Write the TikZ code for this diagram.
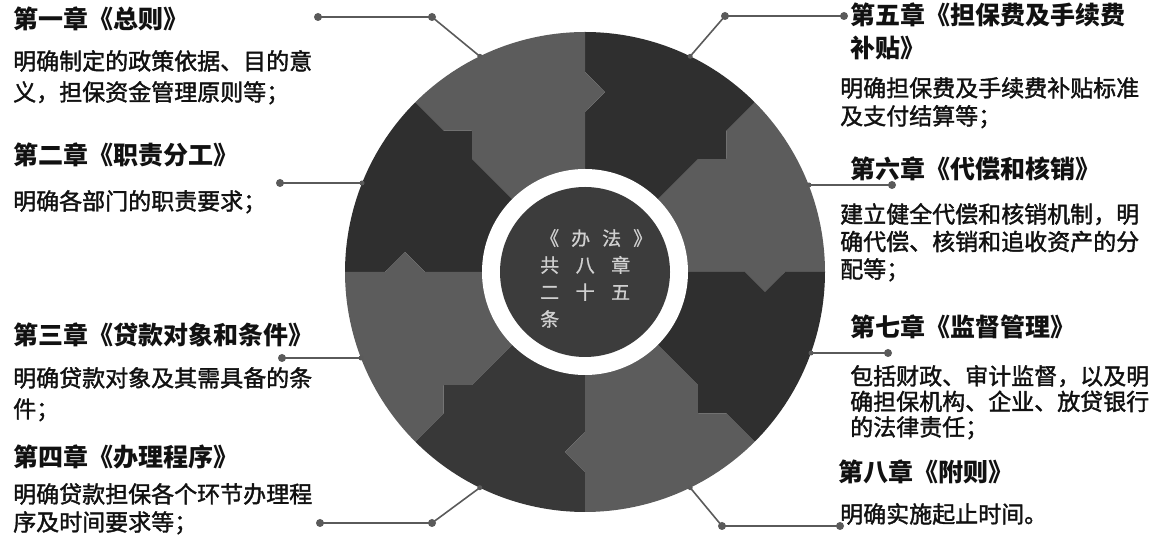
\documentclass[tikz,border=0pt]{standalone}
\usepackage{fontspec}
\usetikzlibrary{calc}
\newfontfamily\cjk{Noto Sans CJK SC}
\newfontfamily\cjkb{Noto Sans CJK SC}[FakeBold=1.6]
\newfontfamily\cjkc{Noto Sans CJK SC}[FakeBold=0.8]
\definecolor{lightg}{HTML}{5C5C5C}
\definecolor{darkg}{HTML}{2F2F2F}
\definecolor{darkb}{HTML}{383838}
\definecolor{innerg}{HTML}{3C3C3C}
\definecolor{lineg}{HTML}{5A5A5A}
\definecolor{ctext}{HTML}{D0D0D0}
\definecolor{ink}{HTML}{111111}
\begin{document}
\begin{tikzpicture}[x=1pt,y=1pt,
  ttl/.style={anchor=north west, inner sep=0, align=left, text=ink, font=\cjk\bfseries\fontsize{25}{33}\selectfont},
  bdy/.style={anchor=north west, inner sep=0, align=left, text=ink, font=\cjkb\fontsize{23}{28}\selectfont},
  dot/.style={circle, fill=lineg, inner sep=0, minimum size=8pt},
  edot/.style={circle, fill=lineg, inner sep=0, minimum size=5pt},
  conn/.style={draw=lineg, line width=1.6pt}]
\useasboundingbox (0,0) rectangle (1160,535);
% ring pieces
\begin{scope}[shift={(585,263)}]
\foreach \a/\c in {0/lightg,45/darkg,90/lightg,135/darkg,180/lightg,225/darkb,270/lightg,315/darkg}{
  \fill[\c] (0,0) -- (\a:160pt) -- ({\a-6.34}:181.1pt) -- (\a:200pt) -- (\a:240pt)
    arc[start angle=\a, end angle=\a+45, radius=240pt]
    -- ({\a+45}:200pt) -- ({\a+45-6.34}:181.1pt) -- ({\a+45}:160pt) -- cycle;
}
\fill[white] (0,0) circle[radius=103pt];
\fill[innerg] (0,0) circle[radius=85pt];
\end{scope}
% centre text
\node[anchor=north west, inner sep=0, text=ctext, font=\cjkc\fontsize{19}{27}\selectfont] (mid) at (540,306)
  {\vbox{\hbox to 112pt{《\hfill 办\hfill 法\hfill 》}\hbox to 90pt{共\hfill 八\hfill 章}\hbox to 90pt{二\hfill 十\hfill 五}\hbox{条}}};
% connector points
\coordinate (c) at (585,263);
\node[edot] (e1) at ($(c)+(116:240pt)$) {};
\node[edot] (e5) at ($(c)+(64:240pt)$) {};
\node[edot] (e4) at ($(c)+(244:240pt)$) {};
\node[edot] (e8) at ($(c)+(296:240pt)$) {};
\node[edot] (e2) at (362,352) {};
\node[edot] (e6) at (809,350) {};
\node[edot] (e3) at (361,177) {};
\node[edot] (e7) at (811,182) {};
\node[dot] (k1) at (432,518) {};
\node[dot] (d1) at (318,518) {};
\node[dot] (k5) at (725,519) {};
\node[dot] (d5) at (844,519) {};
\node[dot] (k4) at (432,12) {};
\node[dot] (d4) at (320,12) {};
\node[dot] (k8) at (722,9) {};
\node[dot] (d8) at (840,9) {};
\node[dot] (d2) at (280,352) {};
\node[dot] (d6) at (892,350) {};
\node[dot] (d3) at (282,177) {};
\node[dot] (d7) at (888,182) {};
\draw[conn] (e1.center) -- (k1.center) -- (d1.center);
\draw[conn] (e5.center) -- (k5.center) -- (d5.center);
\draw[conn] (e4.center) -- (k4.center) -- (d4.center);
\draw[conn] (e8.center) -- (k8.center) -- (d8.center);
\draw[conn] (e2.center) -- (d2.center);
\draw[conn] (e6.center) -- (d6.center);
\draw[conn] (e3.center) -- (d3.center);
\draw[conn] (e7.center) -- (d7.center);
% left texts
\node[ttl] (t1) at (13,528) {第一章《总则》};
\node[bdy, font=\cjkb\fontsize{23}{31}\selectfont] (b1) at (13,485) {明确制定的政策依据、目的意\\义，担保资金管理原则等；};
\node[ttl] (t2) at (13,392) {第二章《职责分工》};
\node[bdy] (b2) at (13,345) {明确各部门的职责要求；};
\node[ttl] (t3) at (13,212) {第三章《贷款对象和条件》};
\node[bdy, font=\cjkb\fontsize{23}{31}\selectfont] (b3) at (13,168) {明确贷款对象及其需具备的条\\件；};
\node[ttl] (t4) at (13,90) {第四章《办理程序》};
\node[bdy] (b4) at (13,52) {明确贷款担保各个环节办理程\\序及时间要求等；};
% right texts
\node[ttl] (t5) at (850,532) {第五章《担保费及手续费\\补贴》};
\node[bdy] (b5) at (840,458) {明确担保费及手续费补贴标准\\及支付结算等；};
\node[ttl] (t6) at (850,378) {第六章《代偿和核销》};
\node[bdy, font=\cjkb\fontsize{23}{27.5}\selectfont] (b6) at (840,332) {建立健全代偿和核销机制，明\\确代偿、核销和追收资产的分\\配等；};
\node[ttl] (t7) at (850,220) {第七章《监督管理》};
\node[bdy, font=\cjkb\fontsize{23}{25.5}\selectfont] (b7) at (850,170) {包括财政、审计监督，以及明\\确担保机构、企业、放贷银行\\的法律责任；};
\node[ttl] (t8) at (838,75) {第八章《附则》};
\node[bdy] (b8) at (840,32) {明确实施起止时间。};
\end{tikzpicture}
\end{document}
